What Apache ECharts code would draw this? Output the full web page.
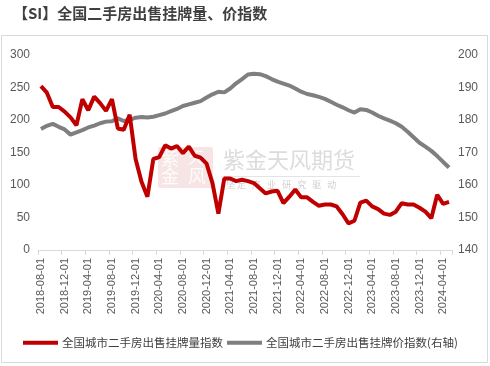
<!DOCTYPE html>
<html>
<head>
<meta charset="utf-8">
<script src="https://cdn.jsdelivr.net/npm/echarts@6/dist/echarts.min.js"></script>
<style>html,body{margin:0;padding:0;background:#fff;}#c{width:490px;height:366px;}</style>
</head>
<body>
<div id="c"></div>
<script>
var categories = [
'2018-08-01','2018-09-01','2018-10-01','2018-11-01','2018-12-01','2019-01-01','2019-02-01','2019-03-01','2019-04-01','2019-05-01',
'2019-06-01','2019-07-01','2019-08-01','2019-09-01','2019-10-01','2019-11-01','2019-12-01','2020-01-01','2020-02-01','2020-03-01',
'2020-04-01','2020-05-01','2020-06-01','2020-07-01','2020-08-01','2020-09-01','2020-10-01','2020-11-01','2020-12-01','2021-01-01',
'2021-02-01','2021-03-01','2021-04-01','2021-05-01','2021-06-01','2021-07-01','2021-08-01','2021-09-01','2021-10-01','2021-11-01',
'2021-12-01','2022-01-01','2022-02-01','2022-03-01','2022-04-01','2022-05-01','2022-06-01','2022-07-01','2022-08-01','2022-09-01',
'2022-10-01','2022-11-01','2022-12-01','2023-01-01','2023-02-01','2023-03-01','2023-04-01','2023-05-01','2023-06-01','2023-07-01',
'2023-08-01','2023-09-01','2023-10-01','2023-11-01','2023-12-01','2024-01-01','2024-02-01','2024-03-01','2024-04-01','2024-05-01'
];
var listingVolume = [
252,242,220,220,213,204,192,232,215,236,
226,214,232,187,185,208,140,105,82,140,
143,161,156,160,149,159,145,142,133,103,
56,110,110,106,108,106,103,95,87,90,
91,72,82,93,81,81,74,68,70,70,
67,55,41,45,73,76,67,63,56,54,
59,72,70,70,65,59,49,85,71,74
];
var listingPrice = [
177.2,178.2,178.8,177.9,177.1,175.5,176.2,176.9,177.7,178.3,
179.0,179.5,179.6,180.5,179.7,180.0,180.7,180.9,180.8,181.0,
181.5,182.0,182.7,183.4,184.3,184.8,185.3,185.8,186.9,187.9,
188.7,188.5,189.7,191.3,192.6,194.0,194.2,194.1,193.5,192.6,
191.8,191.2,190.6,189.7,188.7,188.0,187.6,187.1,186.5,185.6,
184.7,183.9,183.0,182.3,183.3,183.1,182.3,181.3,180.5,179.8,
179.0,177.9,176.4,174.7,173.0,171.8,170.5,168.9,167.1,165.4
];
var seriesNames = ['全国城市二手房出售挂牌量指数','全国城市二手房出售挂牌价指数(右轴)'];
var titleText = '【SI】全国二手房出售挂牌量、价指数';

var chart = echarts.init(document.getElementById('c'), null, {renderer:'canvas'});
var axisFont = '"Liberation Sans", Arial, sans-serif';
var cjk = '"Noto Sans CJK SC", sans-serif';
chart.setOption({
  animation: false,
  backgroundColor: '#fff',
  title: {
    text: titleText, left: 8, top: 1,
    textStyle: {fontSize: 15, fontWeight: 'bold', color: '#404040', fontFamily: cjk}
  },
  graphic: [
    {type:'rect', shape:{x:1.5,y:35.5,width:486,height:327}, style:{fill:'none', stroke:'#d9d9d9', lineWidth:1}, silent:true, z:-10},
    {type:'rect', shape:{x:158,y:147,width:55,height:41,r:2}, style:{fill:'rgba(226,160,160,0.28)'}, silent:true, z:-5},
    {type:'text', left:161, top:149, style:{text:'紫', fontSize:18, fill:'rgba(255,255,255,0.85)', fontFamily:cjk}, silent:true, z:-4},
    {type:'text', left:188, top:149, style:{text:'天', fontSize:16, fill:'rgba(255,255,255,0.85)', fontFamily:cjk}, silent:true, z:-4},
    {type:'text', left:161, top:167, style:{text:'金', fontSize:18, fill:'rgba(255,255,255,0.85)', fontFamily:cjk}, silent:true, z:-4},
    {type:'text', left:188, top:167, style:{text:'风', fontSize:18, fill:'rgba(255,255,255,0.85)', fontFamily:cjk}, silent:true, z:-4},
    {type:'text', left:223, top:149, style:{text:'紫金天风期货', fontSize:22, fill:'#dcdcdc', fontFamily:cjk}, silent:true, z:-4},
    {type:'line', shape:{x1:222,y1:176.5,x2:360,y2:176.5}, style:{stroke:'#e4e4e4', lineWidth:1}, silent:true, z:-4},
    {type:'text', left:226, top:180, style:{text:'坚 定   产   业   研   究   驱   动', fontSize:9, fill:'#d0d0d0', fontFamily:cjk}, silent:true, z:-4}
  ],
  legend: {
    left: 23, top: 337, padding: 0, itemGap: 4, itemWidth: 35, itemHeight: 4,
    icon: 'rect',
    textStyle: {fontSize: 11.5, color: '#404040', fontFamily: cjk, padding:[0,0,0,-1]},
    data: seriesNames
  },
  grid: {left: 38, right: 38, top: 55, bottom: 116},
  xAxis: {
    type: 'category', data: categories, boundaryGap: true,
    axisLine: {show: true, lineStyle: {color: '#d9d9d9', width: 1}},
    axisTick: {show: true, interval: 3, length: 5, lineStyle: {color: '#d9d9d9'}},
    axisLabel: {interval: 3, rotate: 90, margin: 8, fontSize: 11, color: '#595959', fontFamily: axisFont, padding:[0,0,6,0]}
  },
  yAxis: [
    {type:'value', min:0, max:300, interval:50,
     axisLine:{show:false}, axisTick:{show:false}, splitLine:{show:false},
     axisLabel:{fontSize:12, color:'#595959', margin:8, fontFamily: axisFont}},
    {type:'value', min:140, max:200, interval:10,
     axisLine:{show:false}, axisTick:{show:false}, splitLine:{show:false},
     axisLabel:{fontSize:12, color:'#595959', margin:6, fontFamily: axisFont}}
  ],
  series: [
    {name: seriesNames[0], type:'line', yAxisIndex:0, data: listingVolume,
     showSymbol:false, symbol:'none', lineStyle:{color:'#C00000', width:4}, itemStyle:{color:'#C00000'}, z:3},
    {name: seriesNames[1], type:'line', yAxisIndex:1, data: listingPrice,
     showSymbol:false, symbol:'none', lineStyle:{color:'#7F7F7F', width:4}, itemStyle:{color:'#7F7F7F'}, z:2}
  ]
});
</script>
</body>
</html>
